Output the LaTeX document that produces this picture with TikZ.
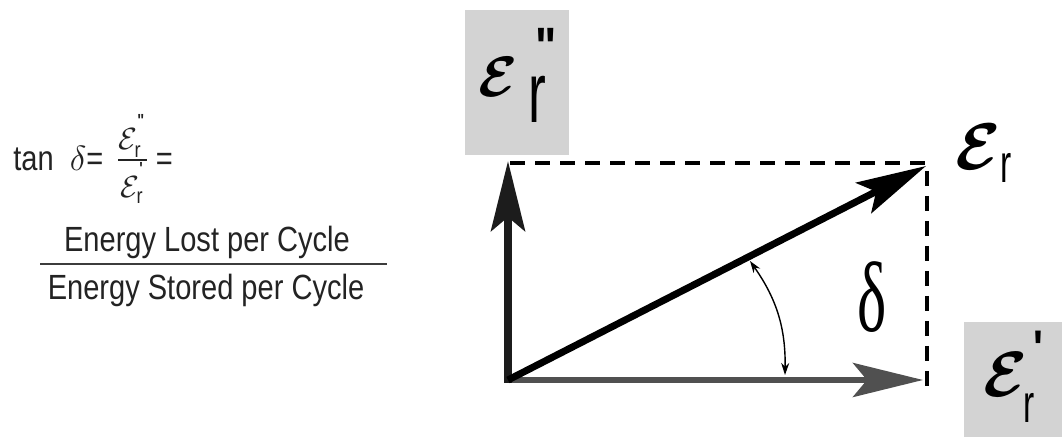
\documentclass[tikz,border=0pt]{standalone}
\usepackage{fix-cm}
\usepackage{amsmath}
\usepackage{graphicx}
\usepackage{fontspec}
\setmainfont{Liberation Sans}[FakeStretch=0.83]
\setsansfont{Liberation Sans}[FakeStretch=0.83]
\newfontfamily\narrowsans{Liberation Sans}[FakeStretch=0.62]
\newfontfamily\greekserif{Liberation Serif}
\usepackage{tikz}
\usetikzlibrary{arrows.meta, positioning, calc}
\definecolor{boxgrey}{RGB}{211,211,211}
\definecolor{vecdark}{RGB}{28,28,28}
\definecolor{vecgrey}{RGB}{80,80,80}
\definecolor{bargrey}{RGB}{60,60,60}
\definecolor{textdark}{RGB}{35,35,35}
\newcommand{\primemark}[2]{\raisebox{#1}{\text{\fontsize{7}{7}\selectfont\bfseries #2}}}
\tikzset{
  greybox/.style={rectangle, fill=boxgrey, inner sep=0pt},
  lbl/.style={inner sep=0pt, anchor=base west},
  bodytext/.style={inner sep=0pt, text=textdark, font=\fontsize{17.5}{21}\selectfont},
  vecarrow/.style={-{Stealth[length=35pt, width=17pt, inset=7pt]}},
  dashline/.style={line width=2pt, dash pattern=on 7.5pt off 5pt},
  anglearrow/.style={{Stealth[length=6pt, width=4pt]}-{Stealth[length=6pt, width=4pt]},
    line width=0.7pt}
}

\begin{document}
\begin{tikzpicture}[x=0.5pt, y=-0.5pt]
  \useasboundingbox (0,0) rectangle (1062,437);
  % loss tangent formula, left
  \node[bodytext, anchor=base west] (tanEq) at (13,171)
    {tan\ \ $\delta$=\hspace{6pt}\scalebox{1.25}{$\frac{\mathcal{E}_{\text{r}}^{\primemark{5pt}{\textquotedbl}}}%
      {\mathcal{E}_{\text{r}}^{\primemark{5pt}{\textquotesingle}}}$}\hspace{3pt}=};
  \node[bodytext, anchor=base] (lost) at (207,252) {Energy Lost per Cycle};
  \node[bodytext, anchor=base] (stored) at (206,300) {Energy Stored per Cycle};
  \coordinate (barL) at (40,264);
  \coordinate (barR) at (387,264);
  \draw[line width=1pt, color=bargrey] (barL) -- (barR);
  % grey label boxes
  \node[greybox, minimum width=52pt, minimum height=72.5pt] (lossBox) at (517,82.5) {};
  \node[greybox, minimum width=49pt, minimum height=57.5pt] (storeBox) at (1013,379.5) {};
  % phasor diagram
  \coordinate (O) at (508,380);
  \coordinate (imagBase) at (508,383);
  \coordinate (imagTip) at (508,161);
  \coordinate (realBase) at (504,380);
  \coordinate (realTip) at (923,380);
  \coordinate (totalTip) at (926,166);
  \coordinate (dashL) at (510,163);
  \coordinate (dashC) at (927,163);
  \coordinate (dashB) at (927,386);
  \draw[dashline] (dashL) -- (dashC) -- (dashB);
  \draw[vecarrow, line width=3pt, color=vecgrey] (realBase) -- (realTip);
  \draw[vecarrow, line width=4pt, color=vecdark] (imagBase) -- (imagTip);
  \draw[vecarrow, line width=3.5pt, color=black] (O) -- (totalTip);
  % angle delta
  \coordinate (angTop) at (750,261);
  \coordinate (angBot) at (785,375);
  \draw[anglearrow] (angTop) to[bend left=18] (angBot);
  \node[inner sep=0pt, anchor=base] (delta) at (872,332)
    {\scalebox{0.62}[1]{\fontsize{50}{50}\selectfont\greekserif δ}};
  % epsilon'' in top box
  \node[lbl, font=\fontsize{28.5}{30}\selectfont] (lossEps) at (478,97) {$\boldsymbol{\mathcal{E}}$};
  \node[lbl, font=\fontsize{43}{45}\selectfont\narrowsans] (lossR) at (528,123) {r};
  \node[lbl, font=\fontsize{27}{28}\selectfont\bfseries] (lossMark) at (535,66) {\textquotedbl};
  % epsilon' in bottom box
  \node[lbl, font=\fontsize{32}{34}\selectfont] (storeEps) at (983,397) {$\boldsymbol{\mathcal{E}}$};
  \node[lbl, font=\fontsize{27}{28}\selectfont\narrowsans] (storeR) at (1023,423) {r};
  \node[lbl, font=\fontsize{25}{26}\selectfont\bfseries] (storeMark) at (1033,366) {\textquotesingle};
  % epsilon at the tip
  \node[lbl, font=\fontsize{33}{34}\selectfont] (totalEps) at (955,170) {$\boldsymbol{\mathcal{E}}$};
  \node[lbl, font=\fontsize{27}{28}\selectfont\narrowsans] (totalR) at (1000,183) {r};
\end{tikzpicture}
\end{document}
